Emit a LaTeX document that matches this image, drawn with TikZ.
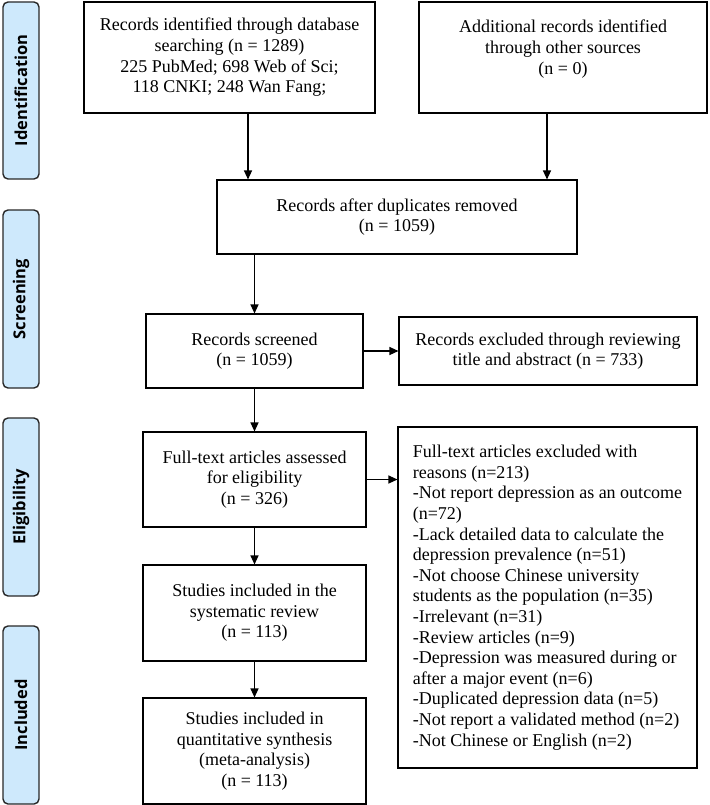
\documentclass[tikz,border=0pt]{standalone}
\usepackage{fontspec}
\setmainfont{Liberation Serif}
\newfontfamily\sidefont{Open Sans}
\usetikzlibrary{arrows.meta}
\definecolor{sidefill}{RGB}{206,233,252}
\definecolor{sideline}{RGB}{40,40,40}
\tikzset{
  box/.style={draw=black, line width=1.1pt, inner sep=0pt, align=center,
    font=\fontsize{18}{20.6}\selectfont},
  sidelabel/.style={draw=sideline, fill=sidefill, line width=1.4pt, rounded corners=5pt,
    rotate=90, inner sep=0pt, minimum height=36pt,
    font=\sidefont\bfseries\fontsize{16.5}{18}\selectfont},
  arr/.style={-{Triangle[length=9pt,width=8pt]}, line width=1.2pt}
}
\begin{document}
\begin{tikzpicture}[x=1pt,y=1pt]
\useasboundingbox (0,0) rectangle (709,-805);
% side labels
\node[sidelabel, minimum width=177pt] (sid) at (21,-90.5) {Identification};
\node[sidelabel, minimum width=178pt] (sscr) at (21,-299) {Screening};
\node[sidelabel, minimum width=178pt] (selig) at (21,-507) {Eligibility};
\node[sidelabel, minimum width=178pt] (sincl) at (21,-715) {Included};
% boxes
\node[box, minimum width=291pt, minimum height=111pt] (b1) at (229.5,-57.5)
  {Records identified through database\\searching (n = 1289)\\225 PubMed; 698 Web of Sci;\\118 CNKI; 248 Wan Fang;};
\node[box, minimum width=288pt, minimum height=111pt] (b2) at (563,-57.5)
  {Additional records identified\\through other sources\\(n = 0)\\\mbox{}};
\node[box, minimum width=360pt, minimum height=74pt] (b3) at (397,-217)
  {Records after duplicates removed\\(n = 1059)};
\node[box, minimum width=217pt, minimum height=74pt] (b4) at (254.5,-351)
  {Records screened\\(n = 1059)};
\node[box, minimum width=298pt, minimum height=68pt] (ex1) at (548,-351)
  {Records excluded through reviewing\\title and abstract (n = 733)};
\node[box, minimum width=223pt, minimum height=95pt] (b5) at (254.5,-479.5)
  {Full-text articles assessed\\for eligibility\\(n = 326)};
\node[box, align=left, minimum width=299pt, minimum height=341pt] (ex2) at (547.5,-597.5)
  {Full-text articles excluded with\\reasons (n=213)\\-Not report depression as an outcome\\(n=72)\\-Lack detailed data to calculate the\\depression prevalence (n=51)\\-Not choose Chinese university\\students as the population (n=35)\\-Irrelevant (n=31)\\-Review articles (n=9)\\-Depression was measured during or\\after a major event (n=6)\\-Duplicated depression data (n=5)\\-Not report a validated method (n=2)\\-Not Chinese or English (n=2)};
\node[box, minimum width=223pt, minimum height=96pt] (b6) at (254.5,-613)
  {Studies included in the\\systematic review\\(n = 113)};
\node[box, minimum width=223pt, minimum height=106pt] (b7) at (254.5,-751)
  {Studies included in\\quantitative synthesis\\(meta-analysis)\\(n = 113)};
% arrow guide coordinates
\coordinate (xa) at (248,0);
\coordinate (xb) at (547,0);
\coordinate (xc) at (254.5,0);
% connectors
\draw[arr] (b1.south -| xa) -- (b3.north -| xa);
\draw[arr] (b2.south -| xb) -- (b3.north -| xb);
\draw[arr] (b3.south -| xc) -- (b4.north);
\draw[arr] (b4.south) -- (b5.north);
\draw[arr] (b5.south) -- (b6.north);
\draw[arr] (b6.south) -- (b7.north);
\draw[arr] (b4.east) -- (ex1.west);
\draw[arr] (b5.east) -- (b5.east -| ex2.west);
\end{tikzpicture}
\end{document}
